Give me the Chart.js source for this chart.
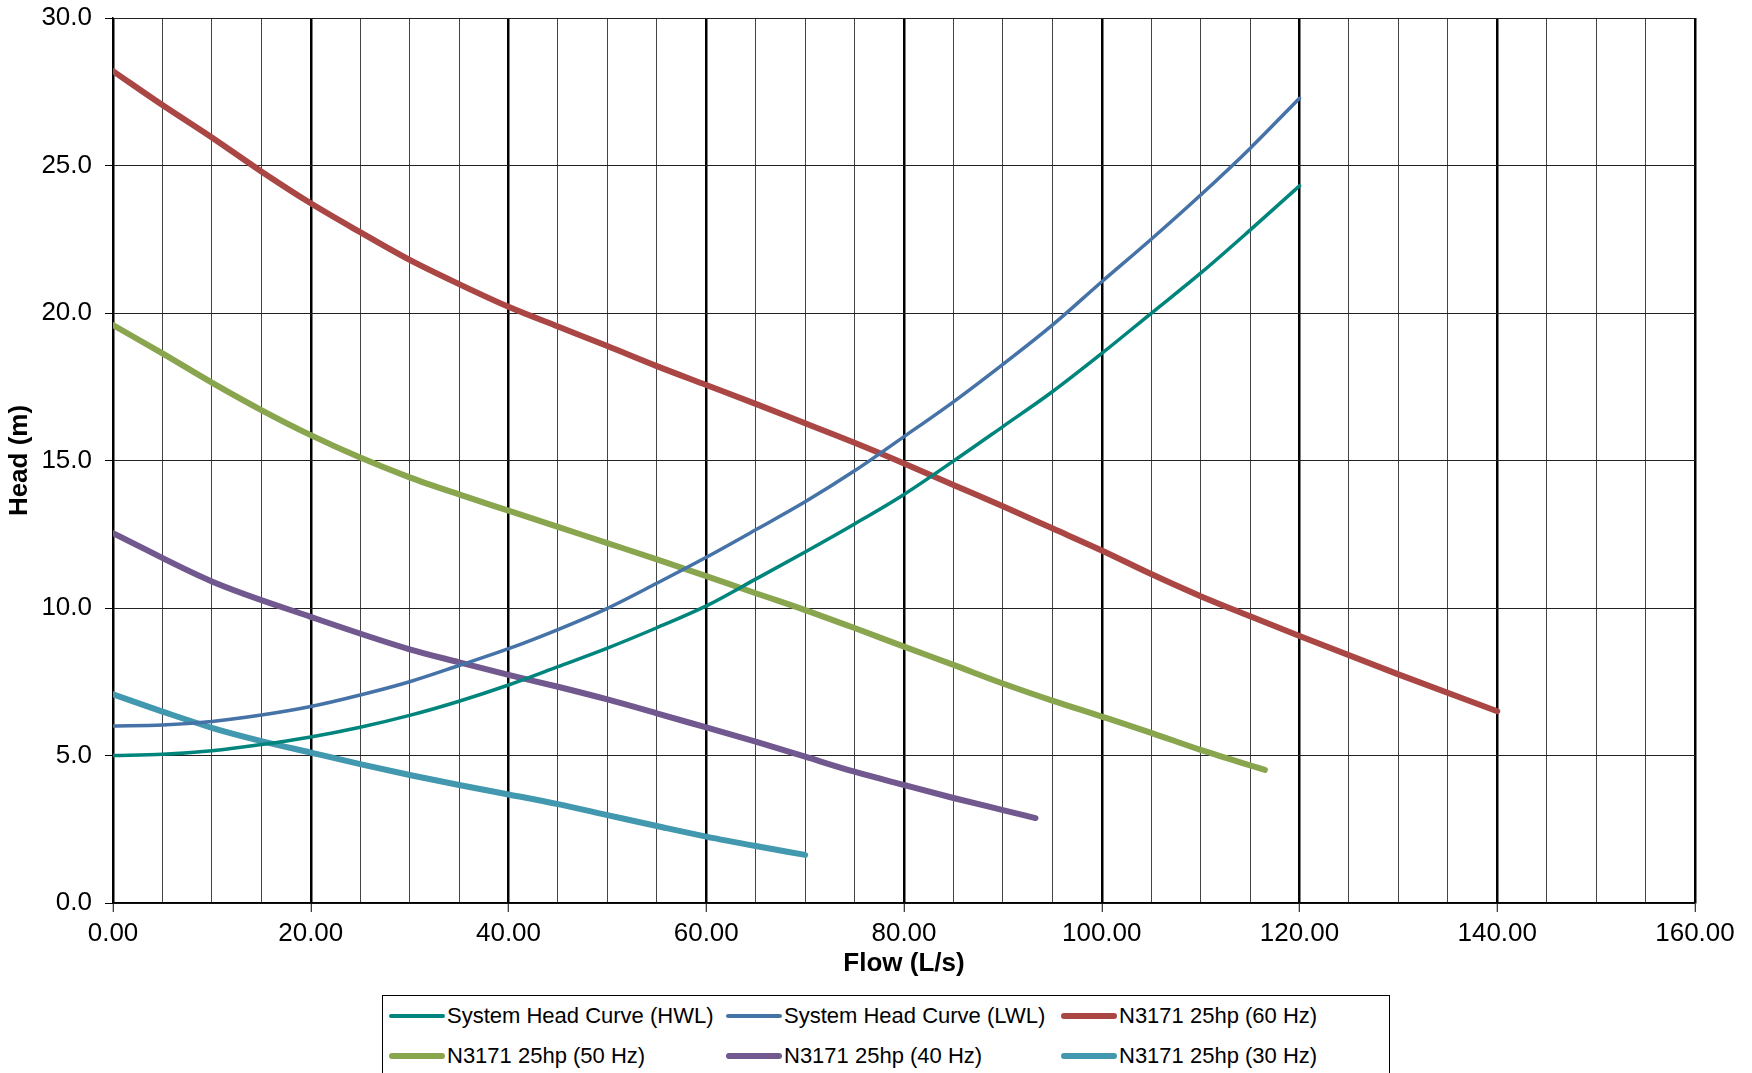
<!DOCTYPE html>
<html>
<head>
<meta charset="utf-8">
<title>Head vs Flow</title>
<script src="https://cdn.jsdelivr.net/npm/chart.js@4.4.1/dist/chart.umd.min.js"></script>
<style>
  html, body { margin: 0; padding: 0; background: #fff; overflow: hidden; }
  .wrap { position: relative; width: 1752px; height: 1073px; }
  #chart-head { position: absolute; left: 0; top: 0; }
  .legend {
    position: absolute; left: 382px; top: 995px; width: 1008px; height: 90px;
    border: 1px solid #000; box-sizing: border-box; background: #fff;
    font-family: "Liberation Sans", Arial, sans-serif; font-size: 22px; color: #000;
  }
  .legend__item { position: absolute; height: 40px; display: flex; align-items: center; white-space: nowrap; }
  .legend__line { display: inline-block; width: 56px; border-radius: 4px; margin-right: 2px; }
</style>
</head>
<body>
<div class="wrap">
  <canvas id="chart-head" width="1752" height="1073"></canvas>
  <div class="legend" id="legend"></div>
</div>
<script>
  "use strict";

  var flowHWL = [0, 5, 10, 15, 20, 25, 30, 35, 40, 45, 50, 55, 60, 65, 70, 75, 80, 85, 90, 95, 100, 105, 110, 115, 120];
  var headHWL = [5.0, 5.04, 5.16, 5.37, 5.63, 5.96, 6.36, 6.84, 7.39, 8.01, 8.64, 9.33, 10.07, 10.98, 11.9, 12.85, 13.85, 14.98, 16.15, 17.33, 18.63, 19.99, 21.35, 22.81, 24.31];

  var flowLWL = [0, 5, 10, 15, 20, 25, 30, 35, 40, 45, 50, 55, 60, 65, 70, 75, 80, 85, 90, 95, 100, 105, 110, 115, 120];
  var headLWL = [6.0, 6.03, 6.15, 6.37, 6.66, 7.05, 7.5, 8.05, 8.62, 9.27, 9.99, 10.84, 11.72, 12.65, 13.6, 14.65, 15.81, 16.99, 18.26, 19.59, 21.06, 22.5, 24.0, 25.58, 27.28];

  var flow60 = [0, 5, 10, 15, 20, 25, 30, 35, 40, 45, 50, 55, 60, 65, 70, 75, 80, 85, 90, 95, 100, 105, 110, 115, 120, 130, 140];
  var head60 = [28.2, 27.05, 25.95, 24.8, 23.72, 22.74, 21.8, 20.98, 20.21, 19.54, 18.88, 18.2, 17.56, 16.92, 16.26, 15.6, 14.9, 14.17, 13.45, 12.7, 11.95, 11.15, 10.4, 9.72, 9.05, 7.75, 6.5];

  var flow50 = [0, 5, 10, 15, 20, 25, 30, 35, 40, 45, 50, 55, 60, 65, 70, 75, 80, 85, 90, 95, 100, 105, 110, 116.5];
  var head50 = [19.59, 18.63, 17.64, 16.71, 15.86, 15.1, 14.43, 13.85, 13.3, 12.75, 12.2, 11.65, 11.08, 10.5, 9.93, 9.32, 8.69, 8.07, 7.44, 6.86, 6.32, 5.77, 5.19, 4.51];

  var flow40 = [0, 10, 20, 30, 35, 40, 45, 50, 55, 60, 65, 70, 75, 80, 85, 90, 93.3];
  var head40 = [12.54, 10.9, 9.7, 8.6, 8.16, 7.73, 7.33, 6.9, 6.43, 5.95, 5.47, 4.96, 4.45, 4.0, 3.56, 3.15, 2.88];

  var flow30 = [0, 5, 10, 15, 20, 25, 30, 35, 40, 45, 50, 55, 60, 65, 70];
  var head30 = [7.07, 6.49, 5.94, 5.49, 5.1, 4.71, 4.34, 4.0, 3.68, 3.35, 2.98, 2.61, 2.25, 1.93, 1.63];

  var seriesNames = ['System Head Curve (HWL)', 'System Head Curve (LWL)', 'N3171 25hp (60 Hz)',
    'N3171 25hp (50 Hz)', 'N3171 25hp (40 Hz)', 'N3171 25hp (30 Hz)'];
  var seriesColors = ['#00857D', '#4572A7', '#AA4643', '#89A54E', '#71588F', '#4198AF'];
  var seriesWidths = [3.5, 3.5, 6, 6, 6, 6];

  var fontFamily = '"Liberation Sans", Arial, sans-serif';

  function toPoints(xs, ys) {
    return xs.map(function (x, i) {
      return { x: x, y: ys[i] };
    });
  }

  var allSeries = [
    toPoints(flowHWL, headHWL),
    toPoints(flowLWL, headLWL),
    toPoints(flow60, head60),
    toPoints(flow50, head50),
    toPoints(flow40, head40),
    toPoints(flow30, head30)
  ];

  var datasets = allSeries.map(function (pts, i) {
    return {
      label: seriesNames[i],
      data: pts,
      borderColor: seriesColors[i],
      backgroundColor: seriesColors[i],
      borderWidth: seriesWidths[i],
      borderCapStyle: 'round',
      borderJoinStyle: 'round',
      pointRadius: 0,
      cubicInterpolationMode: 'monotone',
      fill: false
    };
  });

  var ctxHead = document.getElementById('chart-head').getContext('2d');
  var headChart = new Chart(ctxHead, {
    type: 'line',
    data: { datasets: datasets },
    options: {
      responsive: false,
      animation: false,
      devicePixelRatio: 1,
      layout: {
        padding: { left: 0, top: 18, right: 57, bottom: 94 }
      },
      scales: {
        x: {
          type: 'linear',
          min: 0,
          max: 160,
          afterFit: function (scale) { scale.height = 76; },
          border: { display: true, color: '#000', width: 1.5 },
          grid: {
            color: function (c) { return c.tick && c.tick.value % 20 === 0 ? '#000' : '#444'; },
            lineWidth: function (c) { return c.tick && c.tick.value % 20 === 0 ? 2.5 : 1; },
            tickColor: function (c) { return c.tick && c.tick.value % 20 === 0 ? '#000' : 'rgba(0,0,0,0)'; },
            tickWidth: 1,
            tickLength: 9
          },
          ticks: {
            stepSize: 5,
            autoSkip: false,
            maxRotation: 0,
            padding: 6,
            color: '#000',
            font: { family: fontFamily, size: 26 },
            callback: function (value) {
              return value % 20 === 0 ? value.toFixed(2) : '';
            }
          },
          title: {
            display: true,
            text: 'Flow (L/s)',
            color: '#000',
            padding: { top: 0, bottom: 0 },
            font: { family: fontFamily, size: 26, weight: 'bold' }
          }
        },
        y: {
          min: 0,
          max: 30,
          afterFit: function (scale) {
            scale.width = 113;
            // labels may overhang the plot top, like in the original
            scale.paddingTop = 0;
            scale.paddingBottom = 0;
          },
          border: { display: true, color: '#000', width: 1.5 },
          grid: {
            color: '#222',
            lineWidth: 1,
            tickColor: '#000',
            tickLength: 8
          },
          ticks: {
            stepSize: 5,
            padding: 13,
            color: '#000',
            font: { family: fontFamily, size: 26 },
            callback: function (value) {
              return value.toFixed(1);
            }
          },
          title: {
            display: true,
            text: 'Head (m)',
            color: '#000',
            padding: { top: 4, bottom: 0 },
            font: { family: fontFamily, size: 26, weight: 'bold' }
          }
        }
      },
      plugins: {
        legend: { display: false },
        tooltip: { enabled: false }
      }
    }
  });

  // html legend, 3 columns x 2 rows like the original
  var colLeft = [6, 343, 678];
  var legendEl = document.getElementById('legend');
  headChart.data.datasets.forEach(function (ds, i) {
    var item = document.createElement('div');
    item.className = 'legend__item';
    item.style.left = colLeft[i % 3] + 'px';
    item.style.top = (Math.floor(i / 3) * 40) + 'px';
    var line = document.createElement('span');
    line.className = 'legend__line';
    line.style.height = ds.borderWidth + 'px';
    line.style.background = ds.borderColor;
    item.appendChild(line);
    item.appendChild(document.createTextNode(ds.label));
    legendEl.appendChild(item);
  });
</script>
</body>
</html>
